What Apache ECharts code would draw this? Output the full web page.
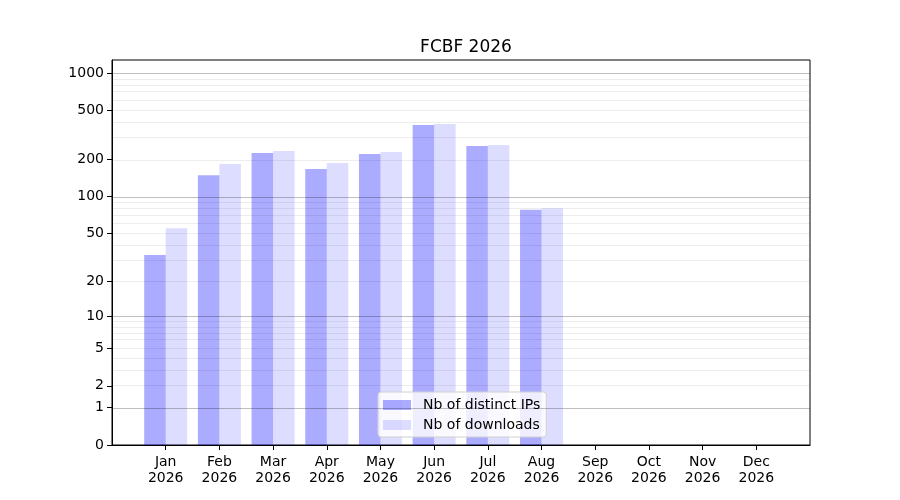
<!DOCTYPE html>
<html>
<head>
<meta charset="utf-8">
<script src="https://cdn.jsdelivr.net/npm/echarts@6/dist/echarts.min.js"></script>
<style>
  html, body { margin: 0; padding: 0; background: #fff; }
  #chart { width: 900px; height: 500px; }
</style>
</head>
<body>
<div id="chart"></div>
<script>
// values
const months = ['Jan', 'Feb', 'Mar', 'Apr', 'May', 'Jun', 'Jul', 'Aug', 'Sep', 'Oct', 'Nov', 'Dec']
const year = '2026'
const distinctIPs = [33, 149, 225, 167, 221, 380, 257, 78, 0, 0, 0, 0]
const downloads = [55, 184, 234, 187, 230, 387, 262, 80, 0, 0, 0, 0]
const yTicks = [0, 1, 2, 5, 10, 20, 50, 100, 200, 500, 1000]
const majorGrid = [1, 10, 100, 1000]
const minorGrid = [2, 3, 4, 5, 6, 7, 8, 9, 20, 30, 40, 50, 60, 70, 80, 90, 200, 300, 400, 500, 600, 700, 800, 900]

// y scale is log10(v + 1)
const fwd = v => Math.log10(v + 1)
const back = t => Math.round(Math.pow(10, t) - 1)

const font = 'DejaVu Sans'
const chart = echarts.init(document.getElementById('chart'), null, { renderer: 'canvas' })

const gridLines = majorGrid.map(v => ({ yAxis: fwd(v), lineStyle: { color: 'rgba(0,0,0,0.25)', width: 1, type: 'solid' } }))
  .concat(minorGrid.map(v => ({ yAxis: fwd(v), lineStyle: { color: 'rgba(0,0,0,0.07)', width: 1, type: 'solid' } })))

chart.setOption({
  animation: false,
  textStyle: { fontFamily: font },
  title: {
    text: 'FCBF ' + year,
    left: 461,
    textAlign: 'center',
    top: 34,
    textStyle: { fontFamily: font, fontSize: 17, fontWeight: 'normal', color: '#000' }
  },
  legend: {
    orient: 'vertical',
    left: 378,
    top: 392,
    padding: [6, 6, 5, 5],
    itemWidth: 28,
    itemHeight: 10,
    itemGap: 6,
    icon: 'rect',
    backgroundColor: 'rgba(255,255,255,0.8)',
    borderColor: '#d0d0d0',
    borderWidth: 1,
    borderRadius: 3,
    textStyle: { fontFamily: font, fontSize: 14, color: '#000', padding: [0, 0, 0, 7] },
    data: ['Nb of distinct IPs', 'Nb of downloads']
  },
  grid: {
    left: 112, right: 90, top: 60, bottom: 55,
    show: true, borderColor: '#000', borderWidth: 1, backgroundColor: 'transparent'
  },
  xAxis: {
    type: 'value',
    min: -1,
    max: 12,
    axisLine: { show: true, onZero: false, lineStyle: { color: '#000' } },
    axisTick: { show: true, length: 5, lineStyle: { color: '#000' }, customValues: months.map((m, i) => i) },
    axisLabel: {
      customValues: months.map((m, i) => i),
      formatter: v => months[Math.round(v)] + '\n' + year,
      fontFamily: font, fontSize: 14, color: '#000', lineHeight: 16, margin: 9
    },
    splitLine: { show: false }
  },
  yAxis: {
    type: 'value',
    min: 0,
    max: 3.105,
    axisLine: { show: true, onZero: false, lineStyle: { color: '#000' } },
    axisTick: { show: true, length: 5, lineStyle: { color: '#000' }, customValues: yTicks.map(fwd) },
    axisLabel: {
      customValues: yTicks.map(fwd),
      formatter: t => String(back(t)),
      fontFamily: font, fontSize: 14, color: '#000', margin: 8
    },
    splitLine: { show: false }
  },
  series: [
    {
      name: 'Nb of distinct IPs',
      type: 'bar',
      barWidth: 21.5,
      barGap: '0%',
      itemStyle: { color: 'rgba(0,0,255,0.33)' },
      data: distinctIPs.map((v, i) => [i, fwd(v)]),
      markLine: {
        silent: true,
        symbol: 'none',
        label: { show: false },
        z: 5,
        data: gridLines
      }
    },
    {
      name: 'Nb of downloads',
      type: 'bar',
      barWidth: 21.5,
      barGap: '0%',
      itemStyle: { color: 'rgba(0,0,255,0.135)' },
      data: downloads.map((v, i) => [i, fwd(v)])
    }
  ]
})
</script>
</body>
</html>
